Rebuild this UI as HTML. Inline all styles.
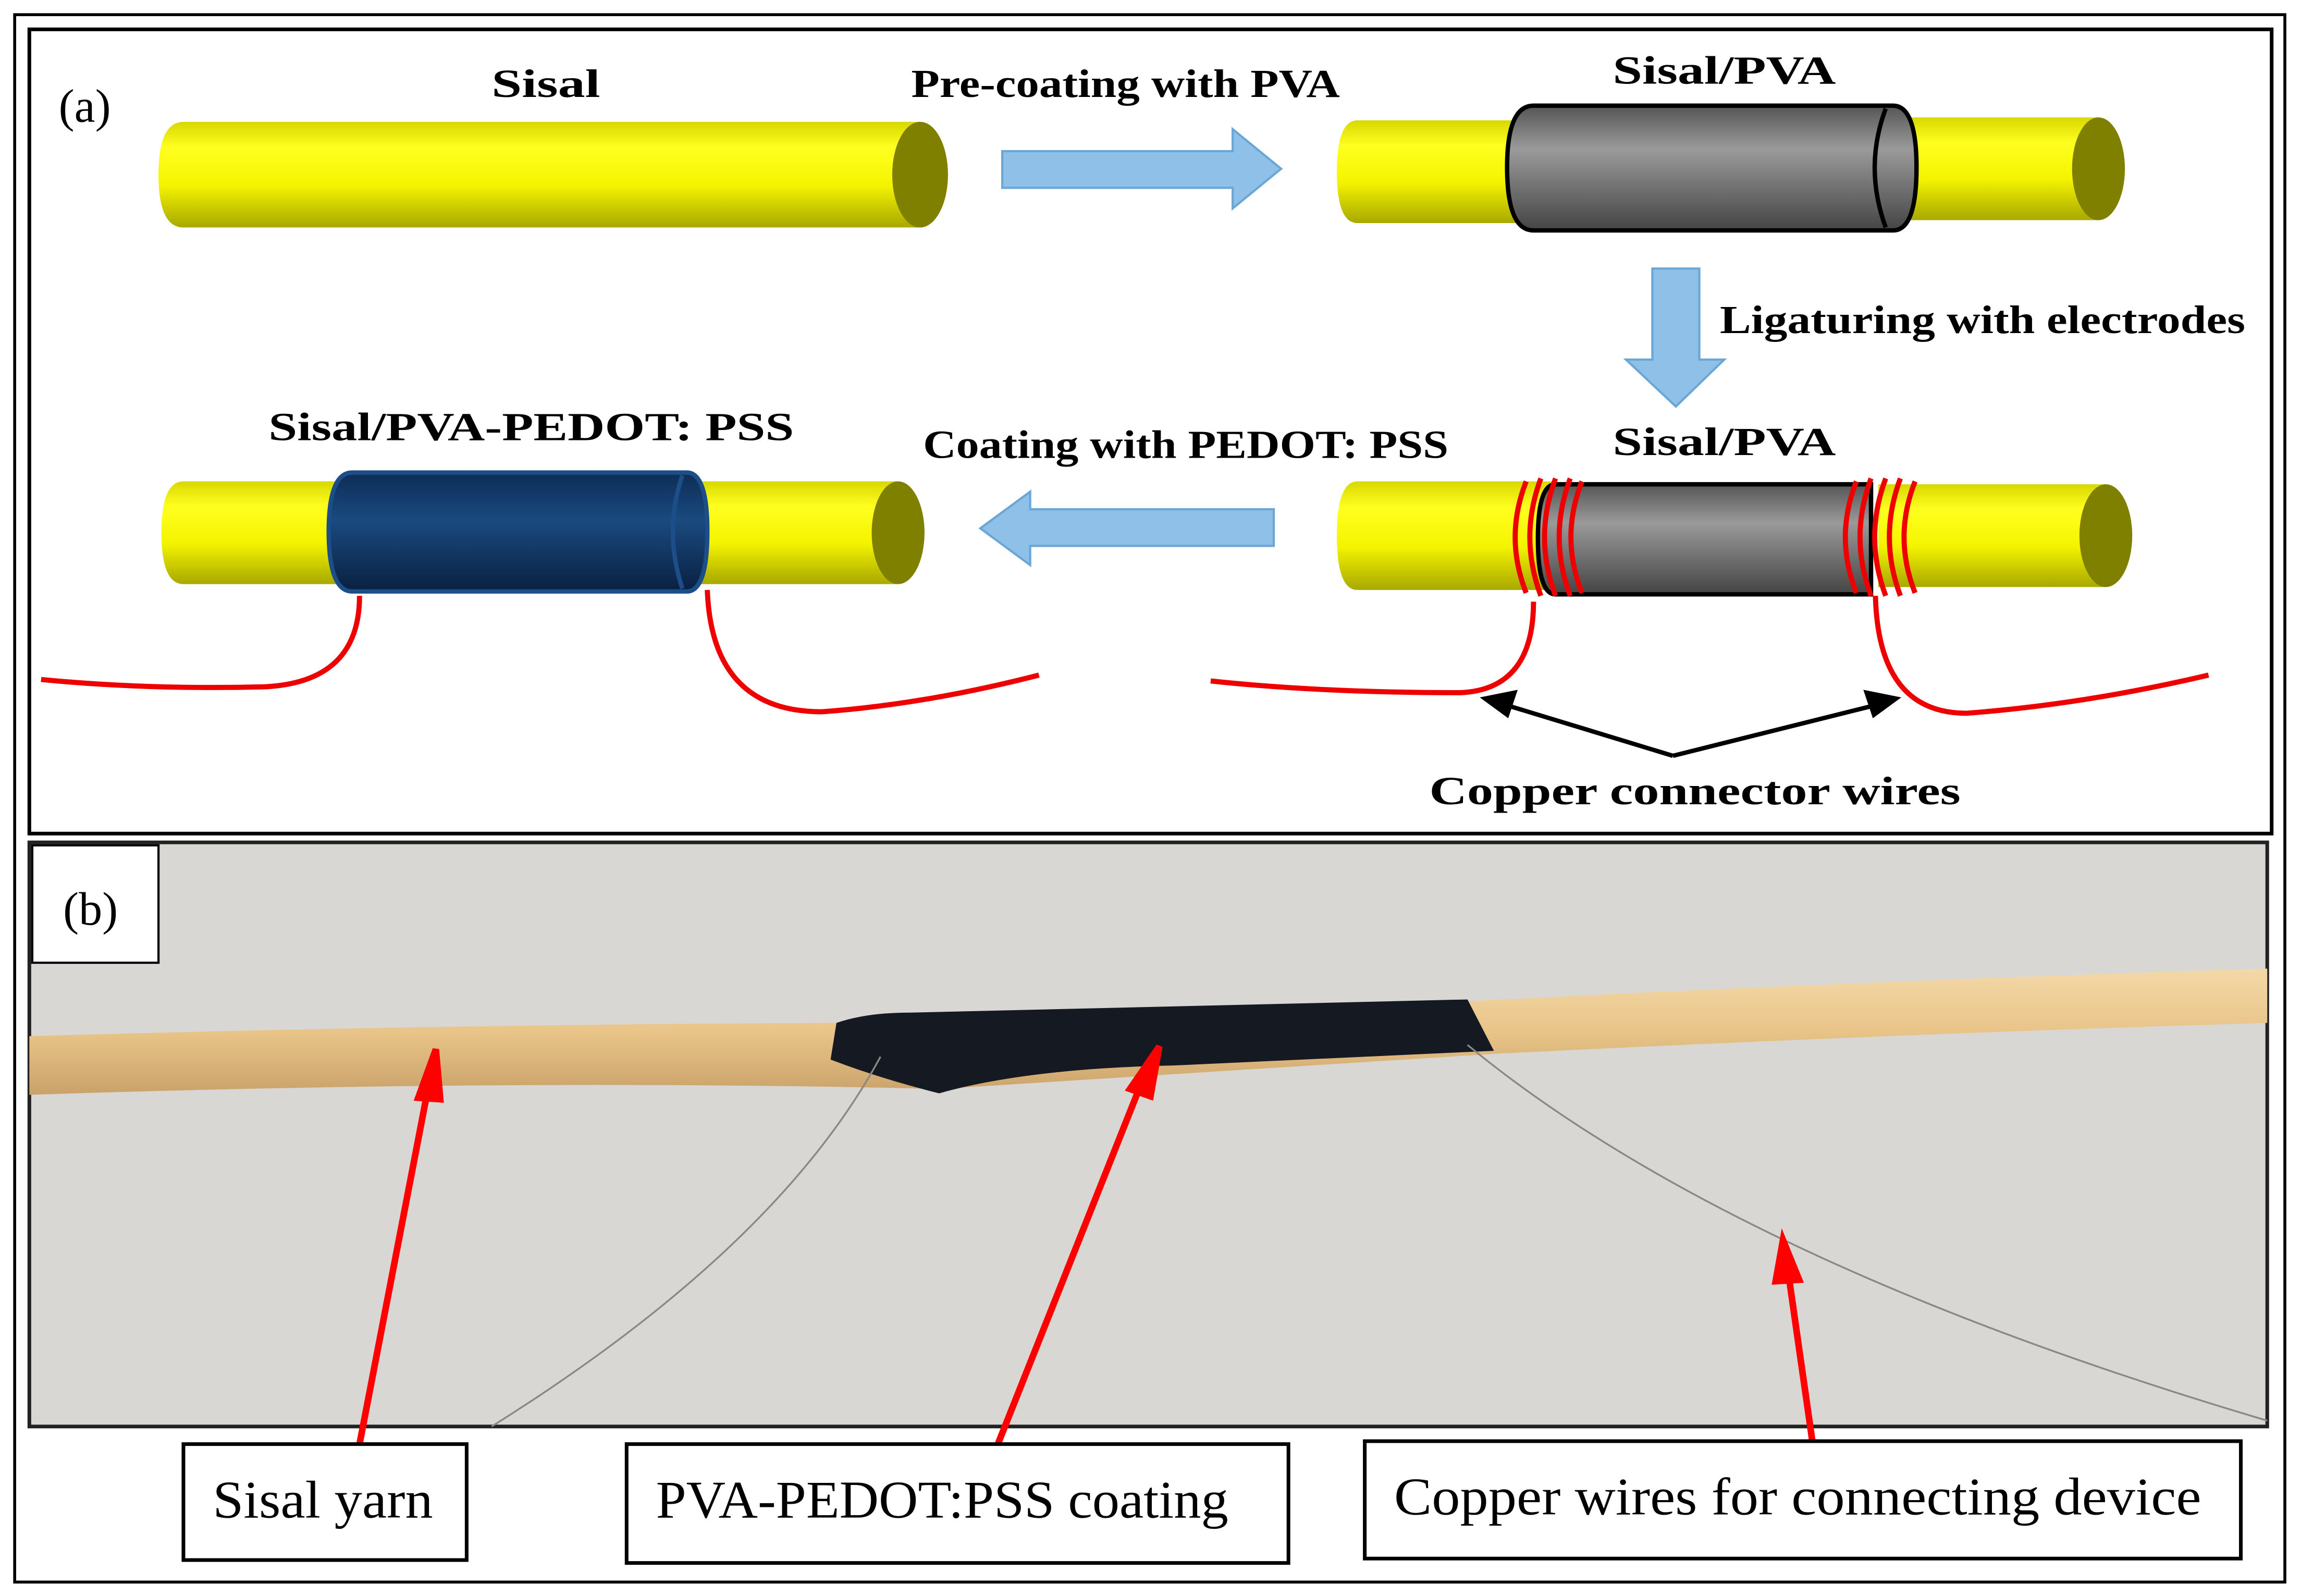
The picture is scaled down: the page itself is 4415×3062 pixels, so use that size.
<!DOCTYPE html>
<html><head><style>html,body{margin:0;padding:0;background:#fff}svg{display:block}</style></head><body>
<svg width="4415" height="3062" viewBox="0 0 1568 1087.5" preserveAspectRatio="none" xmlns="http://www.w3.org/2000/svg" font-family="Liberation Serif, serif">
<defs>
<linearGradient id="y" x1="0" y1="0" x2="0" y2="1"><stop offset="0" stop-color="#d8d800"/><stop offset="0.25" stop-color="#ffff20"/><stop offset="0.6" stop-color="#f4f400"/><stop offset="1" stop-color="#a8a800"/></linearGradient>
<linearGradient id="g" x1="0" y1="0" x2="0" y2="1"><stop offset="0" stop-color="#555"/><stop offset="0.35" stop-color="#9a9a9a"/><stop offset="1" stop-color="#444"/></linearGradient>
<linearGradient id="b" x1="0" y1="0" x2="0" y2="1"><stop offset="0" stop-color="#0d2d55"/><stop offset="0.4" stop-color="#1a4a80"/><stop offset="1" stop-color="#0a2040"/></linearGradient>
<linearGradient id="rope" x1="0" y1="0" x2="0" y2="1"><stop offset="0" stop-color="#f3d9a8"/><stop offset="0.5" stop-color="#e9c488"/><stop offset="1" stop-color="#c9a26a"/></linearGradient>
</defs>
<rect x="10" y="10" width="1547" height="1068" fill="#fff" stroke="#000" stroke-width="2"/>
<rect x="20" y="20" width="1528" height="548" fill="#fff" stroke="#000" stroke-width="2.5"/>
<text x="40" y="83" font-size="32">(a)</text>
<g font-weight="bold" font-size="27" text-anchor="middle" lengthAdjust="spacingAndGlyphs">
<text x="372" y="66" textLength="74" lengthAdjust="spacingAndGlyphs">Sisal</text>
<text x="767" y="66" textLength="292" lengthAdjust="spacingAndGlyphs">Pre-coating with PVA</text>
<text x="1175" y="57" textLength="152" lengthAdjust="spacingAndGlyphs">Sisal/PVA</text>
<text x="1351" y="227" textLength="358" lengthAdjust="spacingAndGlyphs">Ligaturing with electrodes</text>
<text x="362" y="300" textLength="358" lengthAdjust="spacingAndGlyphs">Sisal/PVA-PEDOT: PSS</text>
<text x="808" y="312" textLength="358" lengthAdjust="spacingAndGlyphs">Coating with PEDOT: PSS</text>
<text x="1175" y="310" textLength="152" lengthAdjust="spacingAndGlyphs">Sisal/PVA</text>
<text x="1155" y="548" textLength="362" lengthAdjust="spacingAndGlyphs">Copper connector wires</text>
</g>
<path d="M125,83 L627,83 L627,155 L125,155 Q108,155 108,119 Q108,83 125,83Z" fill="url(#y)"/>
<ellipse cx="627" cy="119" rx="19" ry="36" fill="#808000"/>
<path d="M683,103 L840,103 L840,88 L873,115 L840,142 L840,128 L683,128Z" fill="#8ec0e8" stroke="#6aa6d6" stroke-width="1.5"/>
<path d="M925,82 L1050,82 L1050,152 L925,152 Q911,152 911,117 Q911,82 925,82Z" fill="url(#y)"/>
<path d="M1275,80 L1430,80 L1430,150 L1275,150Z" fill="url(#y)"/>
<ellipse cx="1430" cy="115" rx="18" ry="35" fill="#808000"/>
<path d="M1045,72 L1290,72 Q1306,72 1306,114 Q1306,157 1290,157 L1045,157 Q1027,157 1027,114 Q1027,72 1045,72Z" fill="url(#g)" stroke="#000" stroke-width="3"/>
<path d="M1285,74 Q1270,114 1285,155" fill="none" stroke="#000" stroke-width="3"/>
<path d="M1126,183 L1158,183 L1158,245 L1175,245 L1142,277 L1108,245 L1126,245Z" fill="#8ec0e8" stroke="#6aa6d6" stroke-width="1.5"/>
<path d="M925,328 L1060,328 L1060,402 L925,402 Q911,402 911,365 Q911,328 925,328Z" fill="url(#y)"/>
<path d="M1280,330 L1435,330 L1435,400 L1280,400Z" fill="url(#y)"/>
<ellipse cx="1435" cy="365" rx="18" ry="35" fill="#808000"/>
<path d="M1060,330 L1275,330 L1275,405 L1060,405 Q1048,405 1048,367 Q1048,330 1060,330Z" fill="url(#g)" stroke="#000" stroke-width="3"/>
<g fill="none" stroke="#e00" stroke-width="3.5">
<path d="M1040,328 Q1025,366 1040,404"/><path d="M1050,326 Q1035,366 1050,406"/><path d="M1060,326 Q1045,366 1060,406"/><path d="M1070,326 Q1055,366 1070,406"/><path d="M1078,328 Q1063,366 1078,404"/>
<path d="M1265,328 Q1250,366 1265,404"/><path d="M1275,326 Q1260,366 1275,406"/><path d="M1285,326 Q1270,366 1285,406"/><path d="M1295,326 Q1280,366 1295,406"/><path d="M1305,328 Q1290,366 1305,404"/>
<path d="M825,464 Q900,472 995,472 Q1045,470 1045,410"/>
<path d="M1278,406 Q1280,486 1340,486 Q1420,480 1505,460"/>
<path d="M28,463 Q100,470 180,468 Q245,465 245,406"/>
<path d="M482,402 Q485,485 560,485 Q630,480 708,460"/>
</g>
<g stroke="#000" stroke-width="3" fill="#000">
<line x1="1140" y1="515" x2="1025" y2="480"/><line x1="1140" y1="515" x2="1280" y2="480"/>
<path d="M1012,476 L1032,472 L1027,487Z"/><path d="M1292,476 L1272,472 L1277,487Z"/>
</g>
<path d="M868,347 L702,347 L702,335 L668,360 L702,385 L702,372 L868,372Z" fill="#8ec0e8" stroke="#6aa6d6" stroke-width="1.5"/>
<path d="M125,328 L240,328 L240,398 L125,398 Q110,398 110,363 Q110,328 125,328Z" fill="url(#y)"/>
<path d="M460,328 L612,328 L612,398 L460,398Z" fill="url(#y)"/>
<ellipse cx="612" cy="363" rx="18" ry="35" fill="#808000"/>
<path d="M240,322 L468,322 Q482,322 482,362 Q482,403 468,403 L240,403 Q224,403 224,362 Q224,322 240,322Z" fill="url(#b)" stroke="#1c4f8a" stroke-width="3"/>
<path d="M465,324 Q452,362 465,401" fill="none" stroke="#1c4f8a" stroke-width="3"/>
<!-- Panel b photo -->
<rect x="20" y="574" width="1525" height="398" fill="#d9d7d3" stroke="#222" stroke-width="2.5"/>
<path d="M20,706 Q300,698 570,697 L1005,682 Q1280,668 1545,660 L1545,697 Q1280,705 1020,718 L640,742 Q350,735 20,746Z" fill="url(#rope)"/>
<path d="M570,697 Q590,690 620,690 L1000,681 L1018,716 L800,726 Q700,728 640,745 Q600,735 566,722Z" fill="#151a22"/>
<g fill="none" stroke="#8a8884" stroke-width="1.2">
<path d="M600,720 Q530,850 335,972"/>
<path d="M1000,712 Q1180,860 1545,968"/>
</g>
<rect x="22" y="576" width="86" height="80" fill="#fff" stroke="#000" stroke-width="1.5"/>
<text x="43" y="630" font-size="32">(b)</text>
<g stroke="#f00" stroke-width="4.5" fill="#f00">
<line x1="245" y1="984" x2="292" y2="740"/><path d="M297,715 L285,748 L300,749Z"/>
<line x1="680" y1="984" x2="777" y2="740"/><path d="M790,713 L770,742 L784,747Z"/>
<line x1="1235" y1="982" x2="1219" y2="870"/><path d="M1215,845 L1210,873 L1226,872Z"/>
</g>
<g fill="#fff" stroke="#000" stroke-width="2.5">
<rect x="125" y="984" width="193" height="79"/>
<rect x="427" y="984" width="451" height="81"/>
<rect x="930" y="982" width="597" height="80"/>
</g>
<g font-size="36">
<text x="145" y="1034" textLength="150" lengthAdjust="spacingAndGlyphs">Sisal yarn</text>
<text x="447" y="1034" textLength="390" lengthAdjust="spacingAndGlyphs">PVA-PEDOT:PSS coating</text>
<text x="950" y="1032" textLength="550" lengthAdjust="spacingAndGlyphs">Copper wires for connecting device</text>
</g>
</svg>
</body></html>
